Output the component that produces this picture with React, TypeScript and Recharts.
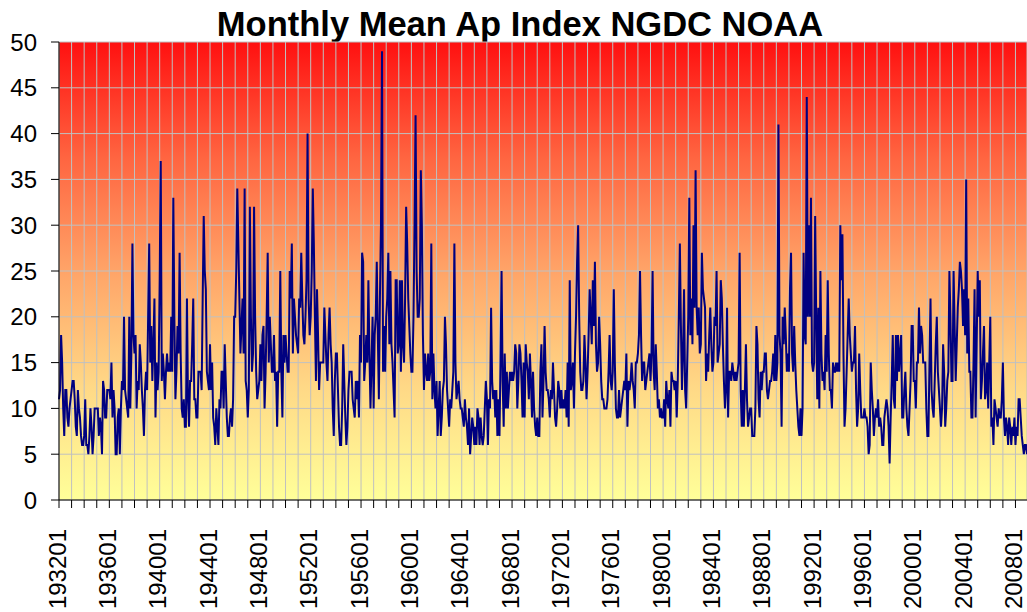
import React from 'react';
import { LineChart, Line, XAxis, YAxis, CartesianGrid } from 'recharts';

const START_YEAR = 1932;
const END_YEAR = 2008;
const MONTHS = ['01', '02', '03', '04', '05', '06', '07', '08', '09', '10', '11', '12'];

// Monthly mean Ap index, one row per year (Jan..Dec)
const apValues: number[] = [
  11, 12, 18, 15, 10, 7, 12, 12, 9, 8, 10, 11, // 1932
  12, 13, 13, 11, 8, 7, 12, 10, 9, 7, 6, 6, // 1933
  7, 11, 6, 6, 5, 7, 10, 8, 5, 7, 10, 10, // 1934
  10, 10, 7, 9, 8, 5, 13, 12, 9, 9, 12, 12, // 1935
  12, 11, 15, 9, 12, 10, 5, 5, 9, 10, 5, 10, // 1936
  13, 12, 20, 12, 11, 10, 9, 20, 10, 16, 28, 18, // 1937
  16, 18, 10, 13, 12, 17, 15, 12, 10, 7, 12, 14, // 1938
  12, 20, 28, 15, 19, 13, 17, 22, 9, 15, 12, 14, // 1939
  24, 37, 13, 16, 14, 11, 14, 16, 14, 15, 14, 20, // 1940
  14, 33, 20, 11, 14, 19, 16, 27, 16, 10, 9, 11, // 1941
  8, 8, 22, 11, 8, 13, 13, 17, 22, 11, 11, 9, // 1942
  9, 14, 14, 14, 12, 22, 31, 25, 23, 14, 13, 12, // 1943
  17, 12, 15, 9, 8, 6, 10, 8, 6, 11, 10, 14, // 1944
  14, 10, 17, 13, 9, 7, 7, 9, 10, 8, 11, 20, // 1945
  20, 25, 34, 28, 22, 16, 19, 22, 16, 34, 13, 12, // 1946
  9, 12, 32, 20, 14, 16, 32, 20, 14, 11, 12, 13, // 1947
  17, 13, 18, 19, 10, 14, 20, 27, 15, 20, 17, 14, // 1948
  14, 18, 13, 14, 8, 14, 14, 25, 14, 9, 18, 15, // 1949
  18, 16, 14, 14, 25, 22, 28, 16, 22, 20, 18, 17, // 1950
  16, 22, 21, 27, 22, 18, 17, 20, 24, 40, 22, 18, // 1951
  20, 25, 34, 28, 20, 13, 23, 18, 12, 15, 15, 15, // 1952
  15, 21, 18, 15, 13, 18, 21, 17, 15, 10, 7, 13, // 1953
  16, 16, 12, 8, 6, 6, 10, 17, 13, 9, 6, 8, // 1954
  12, 14, 14, 14, 11, 10, 9, 13, 11, 13, 9, 18, // 1955
  15, 27, 26, 13, 15, 18, 15, 24, 16, 10, 15, 20, // 1956
  10, 18, 20, 26, 18, 11, 22, 30, 49, 14, 19, 14, // 1957
  20, 22, 27, 17, 25, 17, 15, 12, 9, 24, 24, 16, // 1958
  17, 24, 14, 24, 17, 15, 22, 32, 28, 22, 19, 16, // 1959
  14, 14, 20, 30, 42, 25, 20, 20, 22, 36, 30, 18, // 1960
  12, 16, 14, 13, 16, 13, 14, 28, 11, 16, 12, 10, // 1961
  13, 7, 10, 13, 7, 9, 12, 13, 20, 17, 12, 10, // 1962
  8, 11, 10, 12, 14, 28, 15, 11, 12, 13, 11, 10, // 1963
  10, 9, 8, 11, 9, 8, 6, 10, 5, 7, 9, 8, // 1964
  6, 8, 6, 10, 9, 6, 9, 7, 6, 7, 10, 13, // 1965
  11, 6, 11, 10, 21, 13, 11, 12, 9, 12, 7, 11, // 1966
  7, 15, 25, 13, 8, 16, 10, 14, 10, 12, 14, 13, // 1967
  14, 13, 14, 17, 16, 10, 13, 17, 16, 13, 9, 15, // 1968
  9, 17, 15, 14, 11, 16, 13, 9, 14, 10, 8, 7, // 1969
  9, 7, 7, 14, 17, 9, 13, 19, 14, 12, 12, 11, // 1970
  9, 12, 11, 15, 12, 9, 8, 10, 13, 12, 10, 12, // 1971
  10, 11, 10, 12, 9, 15, 8, 24, 12, 13, 15, 10, // 1972
  16, 20, 26, 30, 20, 14, 12, 12, 13, 18, 15, 11, // 1973
  14, 18, 23, 20, 17, 24, 19, 26, 17, 14, 15, 20, // 1974
  17, 13, 11, 11, 10, 10, 10, 11, 14, 18, 13, 12, // 1975
  14, 23, 15, 10, 9, 9, 12, 9, 10, 11, 12, 13, // 1976
  12, 16, 8, 13, 12, 13, 15, 13, 12, 10, 15, 15, // 1977
  16, 18, 25, 18, 13, 15, 15, 12, 13, 14, 15, 16, // 1978
  13, 16, 25, 14, 12, 17, 14, 10, 11, 9, 10, 9, // 1979
  9, 11, 8, 13, 11, 10, 12, 8, 14, 13, 13, 12, // 1980
  13, 9, 13, 20, 28, 19, 12, 16, 23, 12, 10, 15, // 1981
  20, 33, 18, 22, 17, 30, 21, 36, 21, 18, 21, 16, // 1982
  17, 27, 23, 22, 21, 13, 16, 14, 18, 21, 17, 14, // 1983
  15, 20, 19, 25, 15, 16, 17, 24, 22, 17, 13, 10, // 1984
  12, 21, 9, 14, 14, 13, 15, 14, 13, 14, 13, 14, // 1985
  15, 27, 12, 8, 12, 8, 12, 17, 11, 8, 9, 10, // 1986
  10, 7, 7, 7, 10, 19, 17, 11, 9, 14, 12, 14, // 1987
  14, 16, 16, 12, 11, 12, 13, 13, 14, 16, 13, 18, // 1988
  13, 15, 41, 18, 16, 8, 20, 17, 21, 18, 14, 16, // 1989
  14, 23, 27, 16, 14, 19, 15, 12, 10, 8, 7, 10, // 1990
  7, 10, 27, 18, 17, 44, 20, 30, 20, 33, 15, 14, // 1991
  15, 31, 20, 11, 21, 10, 25, 16, 13, 14, 12, 18, // 1992
  14, 24, 16, 12, 12, 10, 15, 14, 14, 15, 14, 15, // 1993
  14, 30, 24, 29, 16, 8, 10, 14, 18, 22, 18, 16, // 1994
  14, 15, 15, 19, 12, 8, 10, 16, 12, 9, 9, 9, // 1995
  10, 9, 9, 8, 5, 6, 15, 12, 10, 7, 9, 10, // 1996
  9, 11, 8, 9, 8, 6, 6, 9, 10, 11, 10, 8, // 1997
  4, 9, 13, 18, 11, 10, 18, 13, 18, 14, 16, 18, // 1998
  9, 9, 12, 14, 10, 8, 7, 10, 13, 19, 19, 13, // 1999
  13, 10, 15, 15, 21, 16, 19, 18, 15, 15, 15, 10, // 2000
  7, 7, 15, 22, 12, 10, 9, 13, 17, 20, 14, 12, // 2001
  10, 8, 10, 17, 14, 8, 10, 13, 14, 25, 20, 13, // 2002
  13, 25, 19, 13, 17, 21, 23, 26, 25, 23, 19, 23, // 2003
  18, 35, 16, 22, 14, 14, 9, 9, 15, 23, 9, 17, // 2004
  25, 20, 24, 11, 13, 16, 19, 11, 12, 15, 10, 15, // 2005
  20, 8, 9, 6, 11, 10, 9, 8, 10, 9, 9, 11, // 2006
  15, 9, 7, 9, 8, 6, 9, 8, 6, 8, 7, 9, // 2007
  6, 8, 7, 11, 11, 9, 7, 6, 5, 6, 6, 5, // 2008
];

const yTicks = [0, 5, 10, 15, 20, 25, 30, 35, 40, 45, 50];

const years: number[] = [];
for (let y = START_YEAR; y <= END_YEAR; y++) years.push(y);

const categories: string[] = [];
years.forEach((y) => MONTHS.forEach((m) => categories.push(`${y}${m}`)));

const yearTicks = years.map((y) => `${y}01`);
const labelledTicks = years.filter((y) => (y - START_YEAR) % 4 === 0).map((y) => `${y}01`);

const data = categories.map((c, i) => ({ month: c, ap: apValues[i] }));

const FONT = '"Liberation Sans", Arial, sans-serif';

const XTick = (props: any) => {
  const { x, y, payload } = props;
  if (!labelledTicks.includes(payload.value)) return null;
  const tx = x - 2;
  const ty = y + 19;
  return (
    <text
      x={tx}
      y={ty}
      transform={`rotate(-90, ${tx}, ${ty})`}
      textAnchor="end"
      dy="0.36em"
      fontSize={24}
      fontFamily={FONT}
      fill="#000"
    >
      {payload.value}
    </text>
  );
};

export default function App() {
  return (
    <div style={{ position: 'absolute', left: 0, top: 0, width: 1027, height: 612, background: '#fff' }}>
      <svg width={1027} height={42} style={{ position: 'absolute', left: 0, top: 0 }}>
        <text x={520} y={36} textAnchor="middle" fontSize={34.5} fontWeight="bold" fontFamily={FONT} fill="#000">
          Monthly Mean Ap Index NGDC NOAA
        </text>
      </svg>
      <div style={{ position: 'absolute', left: 0, top: 0 }}>
        <LineChart width={1027} height={612} data={data} margin={{ top: 42, right: 0, bottom: 0, left: 0 }}>
          <defs>
            <linearGradient id="bgGrad" x1="0" y1="0" x2="0" y2="1">
              <stop offset="0%" stopColor="#ff1010" />
              <stop offset="25%" stopColor="#ff6440" />
              <stop offset="50%" stopColor="#ffa468" />
              <stop offset="75%" stopColor="#ffd886" />
              <stop offset="100%" stopColor="#ffff99" />
            </linearGradient>
          </defs>
          <CartesianGrid fill="url(#bgGrad)" fillOpacity={1} stroke="#c0c0c0" strokeWidth={1} strokeDasharray="" />
          <XAxis
            dataKey="month"
            type="category"
            ticks={yearTicks}
            interval={0}
            height={112}
            tickSize={8}
            tick={<XTick />}
            axisLine={{ stroke: '#000', strokeWidth: 1 }}
            tickLine={{ stroke: '#000' }}
            padding={{ left: 0, right: 0 }}
          />
          <YAxis
            type="number"
            domain={[0, 50]}
            ticks={yTicks}
            interval={0}
            width={59}
            tickSize={8}
            tickMargin={14}
            axisLine={{ stroke: '#000', strokeWidth: 1 }}
            tickLine={{ stroke: '#000' }}
            tick={{ fontSize: 24, fontFamily: FONT, fill: '#000' }}
          />
          <Line
            type="linear"
            dataKey="ap"
            stroke="#000080"
            strokeWidth={2}
            dot={false}
            activeDot={false}
            isAnimationActive={false}
          />
        </LineChart>
      </div>
    </div>
  );
}
